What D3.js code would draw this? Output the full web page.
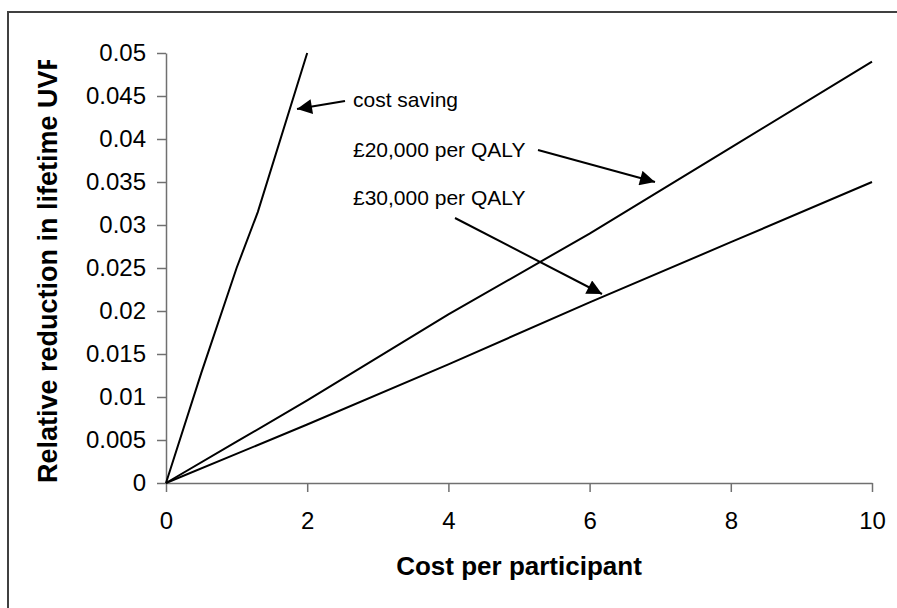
<!DOCTYPE html>
<html>
<head>
<meta charset="utf-8">
<script src="https://cdn.jsdelivr.net/npm/d3@7"></script>
<style>
  html, body { margin: 0; padding: 0; background: #fff; }
  svg { display: block; }
  text { font-family: "Liberation Sans", Arial, sans-serif; fill: #000; }
</style>
</head>
<body>
<div id="chart"></div>
<script>
// ---- data ----
const xTicks = [0, 2, 4, 6, 8, 10];
const yTicks = [0, 0.005, 0.01, 0.015, 0.02, 0.025, 0.03, 0.035, 0.04, 0.045, 0.05];
const yTickLabels = ["0", "0.005", "0.01", "0.015", "0.02", "0.025", "0.03", "0.035", "0.04", "0.045", "0.05"];

const costSavingX = [0, 0.5, 1, 1.3, 2];
const costSavingY = [0, 0.0128, 0.025, 0.0315, 0.05];

const qaly20kX = [0, 1, 2, 4, 6, 8, 10];
const qaly20kY = [0, 0.0048, 0.0096, 0.0196, 0.029, 0.039, 0.049];

const qaly30kX = [0, 2, 4, 6, 8, 10];
const qaly30kY = [0, 0.0068, 0.0138, 0.021, 0.028, 0.035];

const annotationLabels = ["cost saving", "£20,000 per QALY", "£30,000 per QALY"];
const xTitle = "Cost per participant";
const yTitle = "Relative reduction in lifetime UVR";

// ---- layout ----
const W = 897, H = 608;
const svg = d3.select("#chart").append("svg").attr("width", W).attr("height", H);

// outer chart border (extends past right/bottom edges)
svg.append("rect").attr("x", 8).attr("y", 12).attr("width", 900).attr("height", 610)
  .attr("fill", "none").attr("stroke", "#404040").attr("stroke-width", 2);

const x = d3.scaleLinear().domain([0, 10]).range([166, 872]);
const y = d3.scaleLinear().domain([0, 0.05]).range([483, 53]);

// axes
const yAxis = d3.axisLeft(y).tickValues(yTicks).tickSize(9).tickSizeOuter(0).tickPadding(11)
  .tickFormat((d, i) => yTickLabels[i]);
const gy = svg.append("g").attr("transform", `translate(${x(0)},0)`).call(yAxis);
gy.selectAll("text").style("font-size", "24px").attr("font-family", null);

const xAxis = d3.axisBottom(x).tickValues(xTicks).tickSize(9).tickSizeOuter(0).tickPadding(20)
  .tickFormat(d3.format("d"));
const gx = svg.append("g").attr("transform", `translate(0,${y(0)})`).call(xAxis);
gx.selectAll("text").style("font-size", "24px").attr("font-family", null);

[gx, gy].forEach(g => {
  g.selectAll("path.domain").attr("stroke", "#707070").attr("stroke-width", 1.5);
  g.selectAll(".tick line").attr("stroke", "#707070").attr("stroke-width", 1.5);
});

// lines
const line = d3.line().x(d => x(d[0])).y(d => y(d[1]));
const series = [
  d3.zip(costSavingX, costSavingY),
  d3.zip(qaly20kX, qaly20kY),
  d3.zip(qaly30kX, qaly30kY)
];
svg.append("g").selectAll("path").data(series).join("path")
  .attr("d", line).attr("fill", "none").attr("stroke", "#000").attr("stroke-width", 2);

// arrow marker
svg.append("defs").append("marker")
  .attr("id", "arrow").attr("viewBox", "0 0 10 10").attr("refX", 10).attr("refY", 5)
  .attr("markerWidth", 18).attr("markerHeight", 15).attr("markerUnits", "userSpaceOnUse")
  .attr("orient", "auto")
  .append("path").attr("d", "M0,0 L10,5 L0,10 Z").attr("fill", "#000");

// annotations
const annX = 353;
const annBaselines = [107, 157, 205];
svg.append("g").selectAll("text").data(annotationLabels).join("text")
  .attr("x", annX).attr("y", (d, i) => annBaselines[i])
  .style("font-size", "21px").text(d => d);

const arrows = [
  [[345, 101], [297, 109]],
  [[538, 150], [655, 182]],
  [[455, 218], [602, 294]]
];
svg.append("g").selectAll("line").data(arrows).join("line")
  .attr("x1", d => d[0][0]).attr("y1", d => d[0][1])
  .attr("x2", d => d[1][0]).attr("y2", d => d[1][1])
  .attr("stroke", "#000").attr("stroke-width", 2)
  .attr("marker-end", "url(#arrow)");

// axis titles
svg.append("text").attr("x", (x(0) + x(10)) / 2).attr("y", 575)
  .attr("text-anchor", "middle").style("font-size", "26px").style("font-weight", "bold")
  .text(xTitle);

svg.append("clipPath").attr("id", "yclip")
  .append("rect").attr("x", 0).attr("y", 60).attr("width", 100).attr("height", 500);
svg.append("g").attr("clip-path", "url(#yclip)")
  .append("text")
  .attr("transform", `translate(57,483) rotate(-90)`)
  .attr("text-anchor", "start").style("font-size", "27px").style("font-weight", "bold")
  .text(yTitle);
</script>
</body>
</html>
